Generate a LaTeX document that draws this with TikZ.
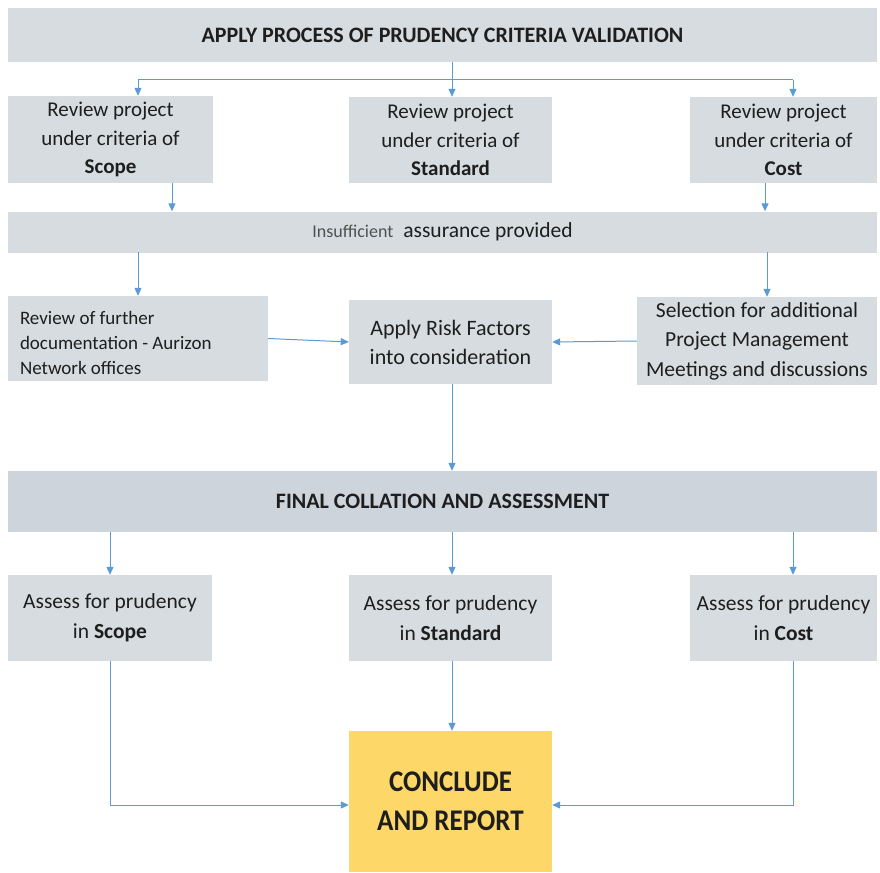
\documentclass[tikz,border=0pt]{standalone}
\usepackage{fontspec}
\setmainfont{Carlito}
\newfontfamily\condfont{Carlito}[FakeStretch=0.9]
\usetikzlibrary{arrows.meta}
\definecolor{boxgray}{HTML}{D6DCDF}
\definecolor{bargray}{HTML}{CDD4DC}
\definecolor{arrblue}{HTML}{5B9BD5}
\definecolor{concl}{HTML}{FDD868}
\definecolor{txt}{HTML}{1E1E1E}
\definecolor{greytxt}{HTML}{505050}
\tikzset{
  box/.style={fill=boxgray, draw=none, inner sep=0pt, align=center, text=txt,
    font=\fontsize{21}{28.5}\selectfont},
  bar/.style={box, minimum width=869pt},
  conn/.style={draw=arrblue, line width=1pt},
  arr/.style={conn, -{Triangle[length=8pt,width=7pt]}},
}
\begin{document}
\begin{tikzpicture}[x=1pt,y=-1pt]
\useasboundingbox (0,0) rectangle (880,872);
\fill[white] (0,0) rectangle (880,872);
% boxes
\node[bar, minimum height=54pt, font=\fontsize{22}{26}\selectfont\bfseries] (top) at (442.5,35) {APPLY PROCESS OF PRUDENCY CRITERIA VALIDATION};
\node[box, minimum width=205pt, minimum height=87pt] (rv1) at (110.5,139.5) {Review project\\under criteria of\\\textbf{Scope}};
\node[box, minimum width=203pt, minimum height=86pt] (rv2) at (450.5,140) {Review project\\under criteria of\\\textbf{Standard}};
\node[box, minimum width=187pt, minimum height=86pt] (rv3) at (783.5,140) {Review project\\under criteria of\\\textbf{Cost}};
\node[bar, minimum height=41pt, font=\fontsize{21.5}{26}\selectfont] (ins) at (442.5,232) {{\color{greytxt}\fontsize{18}{20}\selectfont Insufficient}\hspace{10pt}assurance provided};
\node[box, minimum width=260pt, minimum height=85pt] (m1) at (138,338.5) {};
\node[align=left, anchor=west, inner sep=0pt, text=txt, font=\fontsize{19}{25}\selectfont] (m1t) at ([xshift=12pt,yshift=-4pt]m1.west) {Review of further\\documentation - Aurizon\\Network offices};
\node[box, minimum width=203pt, minimum height=84pt, font=\fontsize{22}{29}\selectfont] (m2) at (450.5,342) {Apply Risk Factors\\into consideration};
\node[box, minimum width=240pt, minimum height=88pt, font=\fontsize{21.5}{29.5}\selectfont] (m3) at (757,341) {Selection for additional\\Project Management\\Meetings and discussions};
\node[bar, fill=bargray, minimum height=61pt, font=\fontsize{22}{26}\selectfont\bfseries] (fin) at (442.5,501.5) {FINAL COLLATION AND ASSESSMENT};
\node[box, minimum width=204pt, minimum height=86pt, font=\fontsize{21.5}{30}\selectfont] (a1) at (110,618) {Assess for prudency\\in \textbf{Scope}};
\node[box, minimum width=203pt, minimum height=86pt, font=\fontsize{21.5}{30}\selectfont] (a2) at (450.5,618) {Assess for prudency\\in \textbf{Standard}};
\node[box, minimum width=187pt, minimum height=86pt, font=\fontsize{21.5}{30}\selectfont] (a3) at (783.5,618) {Assess for prudency\\in \textbf{Cost}};
\node[box, fill=concl, minimum width=203pt, minimum height=141pt, font=\condfont\fontsize{30}{39}\selectfont\bfseries] (con) at (450.5,801.5) {CONCLUDE\\AND REPORT};
% junction coordinates
\coordinate (jL) at (138,80);
\coordinate (jM) at (452,80);
\coordinate (jR) at (793,80);
% connectors
\draw[conn] (top.south -| jM) -- (jM);
\draw[conn] (jL) -- (jR);
\draw[arr] (jL) -- (jL |- rv1.north);
\draw[arr] (jM) -- (jM |- rv2.north);
\draw[arr] (jR) -- (jR |- rv3.north);
\coordinate (d1) at (172,183);
\coordinate (d3) at (765,183);
\draw[arr] (d1) -- (d1 |- ins.north);
\draw[arr] (d3) -- (d3 |- ins.north);
\coordinate (e1) at (138,252);
\coordinate (e3) at (767,252);
\draw[arr] (e1) -- (e1 |- m1.north);
\draw[arr] (e3) -- (e3 |- m3.north);
\draw[arr] (m1.east) -- (m2.west);
\draw[arr] (m3.west) -- (m2.east);
\draw[arr] (m2.south -| jM) -- (jM |- fin.north);
\coordinate (f1) at (110,532);
\coordinate (f3) at (793,532);
\draw[arr] (f1) -- (f1 |- a1.north);
\draw[arr] (jM |- fin.south) -- (jM |- a2.north);
\draw[arr] (f3) -- (f3 |- a3.north);
\draw[arr] (jM |- a2.south) -- (jM |- con.north);
\coordinate (g1) at (110,805);
\coordinate (g3) at (793,805);
\draw[arr] (a1.south -| g1) -- (g1) -- (g1 -| con.west);
\draw[arr] (a3.south -| g3) -- (g3) -- (g3 -| con.east);
\end{tikzpicture}
\end{document}
